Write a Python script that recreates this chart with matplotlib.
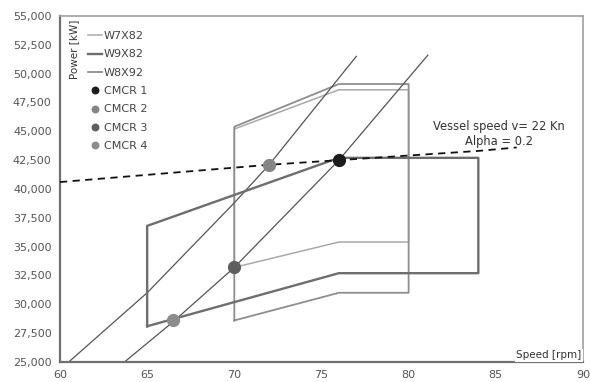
import matplotlib.pyplot as plt

# engine layout boxes (speed rpm, power kW)
w7x82_rpm = [70, 70, 76, 80, 80, 76, 70]
w7x82_kw = [33200, 45200, 48600, 48600, 35400, 35400, 33200]
w9x82_rpm = [65, 65, 76, 84, 84, 76, 65]
w9x82_kw = [28100, 36800, 42700, 42700, 32700, 32700, 28100]
w8x92_rpm = [70, 70, 76, 80, 80, 76, 70]
w8x92_kw = [28600, 45400, 49100, 49100, 31000, 31000, 28600]

# propeller curves
prop_a_rpm = [60.5, 65, 70, 72, 77]
prop_a_kw = [25000, 31000, 38800, 42100, 51500]
prop_b_rpm = [63.7, 66.5, 70, 76, 81.1]
prop_b_kw = [25000, 28500, 33200, 42500, 51600]

# vessel speed line
vessel_rpm = [60, 72, 76, 80, 84, 86.2]
vessel_kw = [40600, 42100, 42500, 42900, 43300, 43600]

# CMCR points
cmcr_labels = ["CMCR 1", "CMCR 2", "CMCR 3", "CMCR 4"]
cmcr_rpm = [76, 72, 70, 66.5]
cmcr_kw = [42500, 42100, 33200, 28600]
cmcr_colors = ["#1c1c1c", "#858585", "#5e5e5e", "#8c8c8c"]

xticks = [60, 65, 70, 75, 80, 85, 90]
yticks = list(range(25000, 55001, 2500))

fig = plt.figure(figsize=(5.9, 3.82), dpi=100)
ax = fig.add_axes([0.1017, 0.0524, 0.8863, 0.9058])

ax.plot(w7x82_rpm, w7x82_kw, color="#a9a9a9", lw=1.1, label="W7X82", zorder=2)
ax.plot(w9x82_rpm, w9x82_kw, color="#6e6e6e", lw=1.7, label="W9X82", zorder=3)
ax.plot(w8x92_rpm, w8x92_kw, color="#8e8e8e", lw=1.3, label="W8X92", zorder=2)

ax.plot(prop_a_rpm, prop_a_kw, color="#555555", lw=0.9, zorder=2)
ax.plot(prop_b_rpm, prop_b_kw, color="#555555", lw=0.9, zorder=2)

ax.plot(vessel_rpm, vessel_kw, color="#111111", lw=1.3, dashes=(4, 3), zorder=4)

for lab, x, y, c in zip(cmcr_labels, cmcr_rpm, cmcr_kw, cmcr_colors):
    ax.plot([x], [y], "o", color=c, ms=8.5, ls="none", label=lab, zorder=5)

ax.set_xlim(60, 90)
ax.set_ylim(25000, 55000)
ax.set_xticks(xticks)
ax.set_yticks(yticks)
ax.set_yticklabels([f"{v:,}" for v in yticks])
ax.tick_params(labelsize=8, colors="#555555", length=0, pad=6)

for s in ["left", "bottom"]:
    ax.spines[s].set_color("#707070")
    ax.spines[s].set_linewidth(1.6)
for s in ["top", "right"]:
    ax.spines[s].set_color("#a0a0a0")
    ax.spines[s].set_linewidth(1.2)

ax.text(60.55, 54700, "Power [kW]", rotation=90, ha="left", va="top",
        fontsize=7.5, color="#333333")
ax.text(89.9, 25150, "Speed [rpm]", ha="right", va="bottom", fontsize=7.5,
        color="#333333", bbox=dict(facecolor="white", edgecolor="none", pad=1))
ax.text(85.2, 45450, "Vessel speed v= 22 Kn", ha="center", va="center",
        fontsize=8.3, color="#333333")
ax.text(85.2, 44100, "Alpha = 0.2", ha="center", va="center",
        fontsize=8.3, color="#333333")

leg = ax.legend(loc="upper left", bbox_to_anchor=(0.035, 0.985), frameon=False,
                fontsize=8, handlelength=1.2, handletextpad=0.2,
                labelspacing=0.75, markerscale=0.55)
for t in leg.get_texts():
    t.set_color("#444444")

fig.savefig("out.png", dpi=100)
